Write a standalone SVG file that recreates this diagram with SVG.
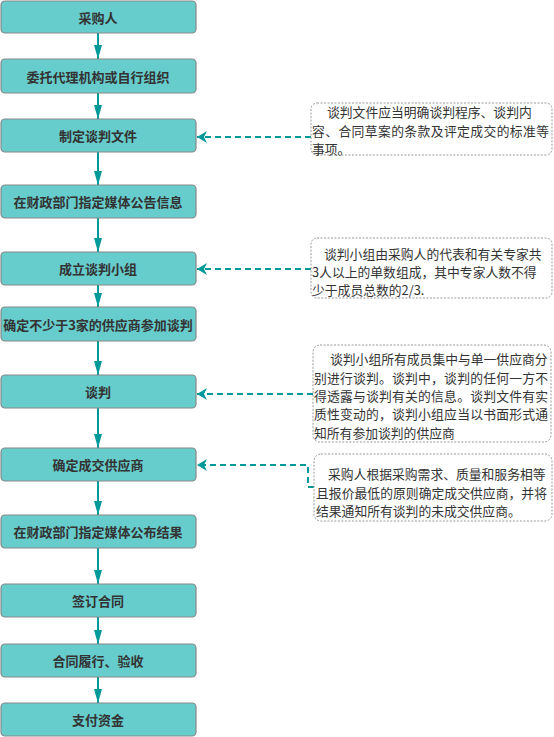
<svg xmlns="http://www.w3.org/2000/svg" width="554" height="737" viewBox="0 0 554 737">
<style>
.box{fill:#66CCCC;stroke:#888;stroke-width:1.2}
.bt{font-family:"Noto Sans CJK SC","Noto Sans",sans-serif;font-size:13px;font-weight:bold;fill:#333;text-anchor:middle;dominant-baseline:central}
.note{fill:#fff;stroke:#999;stroke-width:1;stroke-dasharray:2,1.5}
.nt{font-family:"Noto Sans CJK SC","Noto Sans",sans-serif;font-size:12.8px;fill:#333;dominant-baseline:central}
.flow{stroke:#009999;stroke-width:2;fill:none}
.dash{stroke:#009999;stroke-width:2;fill:none;stroke-dasharray:6,4}
</style>
<defs>
<marker id="ad" viewBox="0 0 14 8" refX="14" refY="4" markerWidth="14" markerHeight="8" markerUnits="userSpaceOnUse" orient="auto"><path d="M0,0 L14,4 L0,8 Z" fill="#009999"/></marker>
<marker id="al" viewBox="0 0 10 12" refX="10" refY="6" markerWidth="10" markerHeight="12" markerUnits="userSpaceOnUse" orient="auto"><path d="M0,0 L10,6 L0,12 L3,6 Z" fill="#009999"/></marker>
</defs>
<g id="connectors">
<line class="flow" x1="98" y1="33" x2="98" y2="59" marker-end="url(#ad)"/>
<line class="flow" x1="98" y1="93" x2="98" y2="119" marker-end="url(#ad)"/>
<line class="flow" x1="98" y1="152" x2="98" y2="185" marker-end="url(#ad)"/>
<line class="flow" x1="98" y1="218" x2="98" y2="252" marker-end="url(#ad)"/>
<line class="flow" x1="98" y1="285" x2="98" y2="307" marker-end="url(#ad)"/>
<line class="flow" x1="98" y1="341" x2="98" y2="375" marker-end="url(#ad)"/>
<line class="flow" x1="98" y1="408" x2="98" y2="448" marker-end="url(#ad)"/>
<line class="flow" x1="98" y1="481" x2="98" y2="515" marker-end="url(#ad)"/>
<line class="flow" x1="98" y1="548" x2="98" y2="584" marker-end="url(#ad)"/>
<line class="flow" x1="98" y1="617" x2="98" y2="644" marker-end="url(#ad)"/>
<line class="flow" x1="98" y1="677" x2="98" y2="703" marker-end="url(#ad)"/>
<line class="dash" x1="311" y1="137" x2="197" y2="137" marker-end="url(#al)"/>
<line class="dash" x1="311" y1="269" x2="197" y2="269" marker-end="url(#al)"/>
<line class="dash" x1="313" y1="394" x2="197" y2="394" marker-end="url(#al)"/>
<polyline class="dash" points="314,487 308,487 308,465 197,465" marker-end="url(#al)"/>
</g>
<g id="n1"><rect class="box" x="1" y="1" width="195" height="32" rx="4"/><text class="bt" x="98" y="17">采购人</text></g>
<g id="n2"><rect class="box" x="1" y="59" width="195" height="34" rx="4"/><text class="bt" x="98" y="76">委托代理机构或自行组织</text></g>
<g id="n3"><rect class="box" x="1" y="119" width="195" height="33" rx="4"/><text class="bt" x="98" y="135.5">制定谈判文件</text></g>
<g id="n4"><rect class="box" x="1" y="185" width="195" height="33" rx="4"/><text class="bt" x="98" y="201.5">在财政部门指定媒体公告信息</text></g>
<g id="n5"><rect class="box" x="1" y="252" width="195" height="33" rx="4"/><text class="bt" x="98" y="268.5">成立谈判小组</text></g>
<g id="n6"><rect class="box" x="1" y="307" width="195" height="34" rx="4"/><text class="bt" x="98" y="324">确定不少于3家的供应商参加谈判</text></g>
<g id="n7"><rect class="box" x="1" y="375" width="195" height="33" rx="4"/><text class="bt" x="98" y="391.5">谈判</text></g>
<g id="n8"><rect class="box" x="1" y="448" width="195" height="33" rx="4"/><text class="bt" x="98" y="464.5">确定成交供应商</text></g>
<g id="n9"><rect class="box" x="1" y="515" width="195" height="33" rx="4"/><text class="bt" x="98" y="531.5">在财政部门指定媒体公布结果</text></g>
<g id="n10"><rect class="box" x="1" y="584" width="195" height="33" rx="4"/><text class="bt" x="98" y="600.5">签订合同</text></g>
<g id="n11"><rect class="box" x="1" y="644" width="195" height="33" rx="4"/><text class="bt" x="98" y="660.5">合同履行、验收</text></g>
<g id="n12"><rect class="box" x="1" y="703" width="195" height="33" rx="4"/><text class="bt" x="98" y="719.5">支付资金</text></g>
<g id="note1"><rect class="note" x="311" y="103" width="241" height="52" rx="6"/>
<text class="nt" x="327" y="111">谈判文件应当明确谈判程序、谈判内</text>
<text class="nt" x="312" y="130" textLength="237" lengthAdjust="spacing">容、合同草案的条款及评定成交的标准等</text>
<text class="nt" x="312" y="148">事项。</text></g>
<g id="note2"><rect class="note" x="311" y="238" width="241" height="60" rx="6"/>
<text class="nt" x="324" y="253">谈判小组由采购人的代表和有关专家共</text>
<text class="nt" x="312" y="271">3人以上的单数组成，其中专家人数不得</text>
<text class="nt" x="312" y="289">少于成员总数的2/3.</text></g>
<g id="note3"><rect class="note" x="313" y="345" width="238" height="97" rx="7"/>
<text class="nt" x="330" y="358">谈判小组所有成员集中与单一供应商分</text>
<text class="nt" x="314" y="377" textLength="234" lengthAdjust="spacing">别进行谈判。谈判中，谈判的任何一方不</text>
<text class="nt" x="314" y="395" textLength="234" lengthAdjust="spacing">得透露与谈判有关的信息。谈判文件有实</text>
<text class="nt" x="314" y="413" textLength="234" lengthAdjust="spacing">质性变动的，谈判小组应当以书面形式通</text>
<text class="nt" x="314" y="432">知所有参加谈判的供应商</text></g>
<g id="note4"><rect class="note" x="314" y="454" width="238" height="67" rx="7"/>
<text class="nt" x="328" y="473">采购人根据采购需求、质量和服务相等</text>
<text class="nt" x="316" y="492" textLength="231" lengthAdjust="spacing">且报价最低的原则确定成交供应商，并将</text>
<text class="nt" x="316" y="510">结果通知所有谈判的未成交供应商。</text></g>
</svg>
